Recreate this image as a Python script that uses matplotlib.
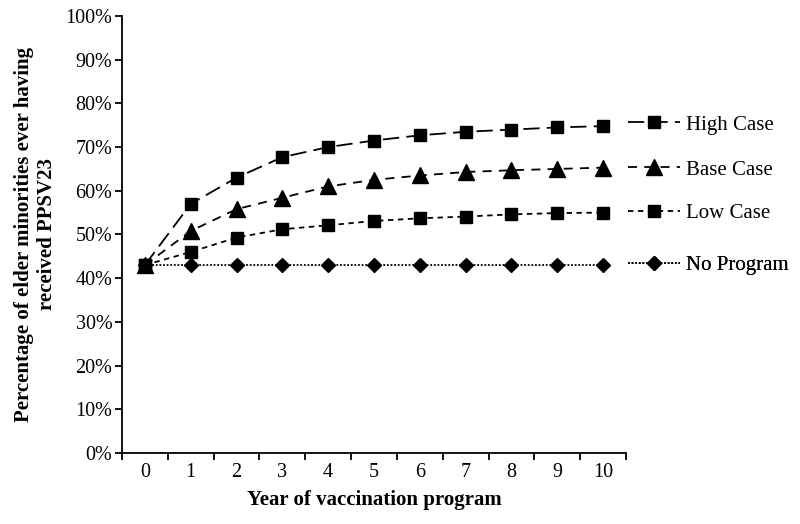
import matplotlib
matplotlib.use("Agg")
import matplotlib.pyplot as plt
import numpy as np

years = list(range(11))
high_case = [43, 57, 63, 67.7, 70, 71.5, 72.7, 73.5, 74, 74.5, 74.8]
base_case = [43, 50.8, 55.8, 58.4, 61, 62.5, 63.5, 64.3, 64.7, 65, 65.3]
low_case = [43, 46, 49.3, 51.2, 52.1, 53.1, 53.7, 54.1, 54.6, 54.9, 55]
no_program = [43] * 11

series = [
    ("High Case", high_case, "s", 8, (0, (9, 4))),
    ("Base Case", base_case, "^", 12, (0, (5, 4))),
    ("Low Case", low_case, "s", 8, (0, (3, 2.5))),
    ("No Program", no_program, "D", 7, (0, (1, 1))),
]
# legend rows sit next to the end of each line
legend_y = [0.751, 0.648, 0.549, 0.430]

plt.rcParams['font.family'] = ['Liberation Serif', 'DejaVu Serif']

fig = plt.figure(figsize=(8, 5.24), dpi=100)
ax = fig.add_axes([0.1525, 0.1355, 0.63, 0.834])

handles = []
for name, vals, mk, ms, ls in series:
    h, = ax.plot(years, vals, color='black', linestyle=ls, linewidth=1.3,
                 marker=mk, markersize=ms, label=name)
    handles.append(h)

ax.set_xlim(-0.5, 10.5)
ax.set_ylim(0, 100)
ax.set_yticks(np.arange(0, 101, 10))
ax.set_yticklabels([f"{v}%" for v in range(0, 101, 10)])
ax.set_xticks(years)
ax.set_xticks(np.arange(-0.5, 10.6, 1), minor=True)
ax.tick_params(axis='x', which='major', length=0, pad=7, labelsize=14.5)
ax.tick_params(axis='x', which='minor', length=5, width=1.3, direction='out')
ax.tick_params(axis='y', length=5, width=1.3, direction='out', labelsize=14.5, pad=2)

for s in ['top', 'right']:
    ax.spines[s].set_visible(False)
for s in ['left', 'bottom']:
    ax.spines[s].set_linewidth(1.3)

ax.set_xlabel('Year of vaccination program', fontsize=15, fontweight='bold', labelpad=6)
ax.set_ylabel('Percentage of elder minorities ever having\nreceived PPSV23',
              fontsize=15, fontweight='bold', labelpad=6)

for h, y in zip(handles, legend_y):
    leg = ax.legend(handles=[h], loc='center left', bbox_to_anchor=(1.004, y),
                    frameon=False, fontsize=15, handlelength=2.5, handletextpad=0.3,
                    borderpad=0, borderaxespad=0)
    ax.add_artist(leg)

fig.savefig('out.png', dpi=100)
